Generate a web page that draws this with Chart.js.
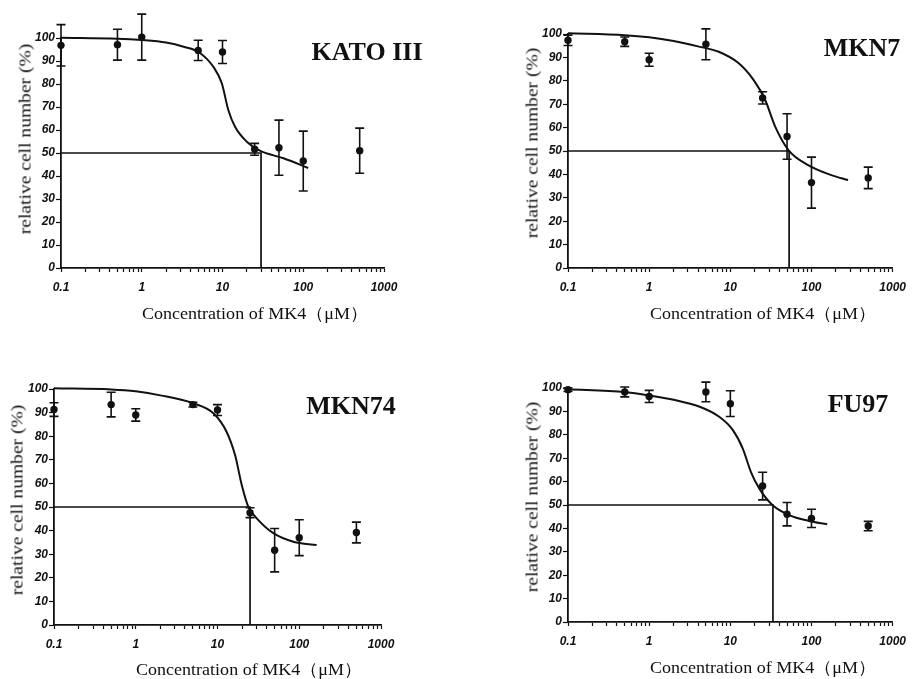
<!DOCTYPE html>
<html><head><meta charset="utf-8">
<script src="https://cdn.jsdelivr.net/npm/chart.js@4.4.1/dist/chart.umd.min.js"></script>
<style>
html,body{margin:0;padding:0;background:#fff}
body{width:914px;height:679px;position:relative;overflow:hidden}
canvas{position:absolute}
.lbl{position:absolute;font-family:"Liberation Serif","Times New Roman",serif;color:#111;white-space:nowrap;line-height:1}
.name{font-weight:bold;font-size:26px;transform:translate(-50%,-50%)}
.xt{font-size:17px;transform:translate(-50%,-50%) scaleX(1.06)}
.yt{font-size:17px;transform:translate(-50%,-50%) rotate(-90deg) scaleX(1.15)}
</style>
</head><body>
<script>
// ---------- data ----------
const xMajorTicks = [0.1, 1, 10, 100, 1000];
const xTickLabels = ['0.1', '1', '10', '100', '1000'];
const yTickLabels = ['0','10','20','30','40','50','60','70','80','90','100'];
const xTitle = 'Concentration of MK4（μM）';
const yTitle = 'relative cell number (%)';

// KATO III
const katoConc = [0.1, 0.5, 1, 5, 10, 25, 50, 100, 500];
const katoMean = [96.8, 97.1, 100.4, 94.6, 93.9, 51.6, 52.3, 46.5, 51.0];
const katoSD   = [9.0, 6.7, 10.0, 4.4, 5.0, 2.6, 12.0, 13.0, 9.8];
const katoFitConc = [0.1, 0.5, 1, 2, 3.3, 5.2, 7.7, 9.8, 11.8, 14.3, 20, 29, 57, 115];
const katoFitVal  = [100.1, 99.7, 99.1, 98.0, 96.2, 93.6, 87.5, 80.3, 68.7, 61.4, 54.9, 51.0, 47.7, 43.5];
const katoIC50 = 30;

// MKN7
const mkn7Conc = [0.1, 0.5, 1, 5, 25, 50, 100, 500];
const mkn7Mean = [97.3, 96.7, 89.0, 95.6, 72.7, 56.2, 36.5, 38.5];
const mkn7SD   = [2.2, 2.0, 2.8, 6.6, 2.6, 9.7, 10.9, 4.6];
const mkn7FitConc = [0.1, 0.5, 1, 2, 4.1, 7.2, 12.7, 19.4, 26.9, 35.7, 52, 91, 176, 282];
const mkn7FitVal  = [100.3, 99.5, 98.6, 97.0, 94.6, 92.4, 87.5, 80.3, 71.8, 60.4, 50.4, 44.0, 39.7, 37.6];
const mkn7IC50 = 53;

// MKN74
const mkn74Conc = [0.1, 0.5, 1, 5, 10, 25, 50, 100, 500];
const mkn74Mean = [91.3, 93.4, 89.0, 93.4, 91.1, 47.6, 31.7, 37.0, 39.2];
const mkn74SD   = [2.9, 5.2, 2.6, 1.0, 2.3, 2.1, 9.2, 7.6, 4.4];
const mkn74FitConc = [0.1, 0.5, 1, 2, 5.1, 8.9, 12.9, 16.4, 19.8, 23.8, 30.2, 48.2, 84.6, 163];
const mkn74FitVal  = [100.3, 99.8, 99.0, 97.3, 93.9, 89.7, 81.9, 72.0, 59.3, 50.1, 45.2, 38.9, 35.3, 33.9];
const mkn74IC50 = 25;

// FU97
const fu97Conc = [0.1, 0.5, 1, 5, 10, 25, 50, 100, 500];
const fu97Mean = [99.3, 98.3, 96.4, 98.3, 93.3, 58.1, 46.1, 44.3, 41.0];
const fu97SD   = [0.8, 2.1, 2.6, 4.2, 5.5, 5.9, 5.0, 3.9, 2.0];
const fu97FitConc = [0.1, 0.5, 1, 2, 4.2, 7.3, 10.7, 14.2, 17.9, 22.7, 33, 53, 93, 156];
const fu97FitVal  = [99.5, 98.3, 96.8, 95.0, 92.0, 87.7, 82.1, 74.2, 64.2, 57.1, 50.0, 45.7, 43.2, 41.8];
const fu97IC50 = 33.5;

// ---------- layout (positions only) ----------
const panels = [
  {name:'KATO III', conc:katoConc, mean:katoMean, sd:katoSD, fx:katoFitConc, fy:katoFitVal, ic:katoIC50,
   cv:[0,0,457,335], area:[61,384,38,268], nameC:[367,52], xtC:[255,313], ytC:[25,139]},
  {name:'MKN7', conc:mkn7Conc, mean:mkn7Mean, sd:mkn7SD, fx:mkn7FitConc, fy:mkn7FitVal, ic:mkn7IC50,
   cv:[457,0,457,335], area:[568,895,34,268], nameC:[862,48], xtC:[763,313], ytC:[532,143]},
  {name:'MKN74', conc:mkn74Conc, mean:mkn74Mean, sd:mkn74SD, fx:mkn74FitConc, fy:mkn74FitVal, ic:mkn74IC50,
   cv:[0,340,457,339], area:[54,381,389,625], nameC:[351,406], xtC:[249,669], ytC:[17,500]},
  {name:'FU97', conc:fu97Conc, mean:fu97Mean, sd:fu97SD, fx:fu97FitConc, fy:fu97FitVal, ic:fu97IC50,
   cv:[457,340,457,339], area:[568,894,388,622], nameC:[858,404], xtC:[763,667], ytC:[532,497]}
];

const INK = '#111';

const errorBars = {
  id: 'errorBars',
  afterDatasetsDraw(chart) {
    const ds = chart.data.datasets.find(d => d.errors);
    if (!ds) return;
    const xs = chart.scales.x, ys = chart.scales.y, ctx = chart.ctx;
    ctx.save();
    ctx.strokeStyle = INK; ctx.lineWidth = 1.6;
    ds.data.forEach((p, i) => {
      const e = ds.errors[i];
      const px = xs.getPixelForValue(p.x);
      const t = ys.getPixelForValue(p.y + e);
      const b = ys.getPixelForValue(p.y - e);
      ctx.beginPath();
      ctx.moveTo(px, t); ctx.lineTo(px, b);
      ctx.moveTo(px - 4.5, t); ctx.lineTo(px + 4.5, t);
      ctx.moveTo(px - 4.5, b); ctx.lineTo(px + 4.5, b);
      ctx.stroke();
    });
    ctx.restore();
  }
};

function xTicksAll() {
  const out = [];
  xMajorTicks.forEach((m, i) => {
    out.push(m);
    if (i < xMajorTicks.length - 1) for (let k = 2; k <= 9; k++) out.push(+(m * k).toPrecision(6));
  });
  return out;
}

const tickFont = {family: '"Liberation Sans", Arial, sans-serif', size: 12, style: 'italic', weight: 'bold'};

function addLabel(cls, text, c) {
  const d = document.createElement('div');
  d.className = 'lbl ' + cls;
  d.textContent = text;
  d.style.left = c[0] + 'px';
  d.style.top = c[1] + 'px';
  document.body.appendChild(d);
}

panels.forEach(p => {
  const [cx, cy, w, h] = p.cv;
  const [aL, aR, aT, aB] = p.area;
  const cnv = document.createElement('canvas');
  cnv.width = w; cnv.height = h;
  cnv.style.left = cx + 'px'; cnv.style.top = cy + 'px';
  cnv.style.width = w + 'px'; cnv.style.height = h + 'px';
  document.body.appendChild(cnv);

  new Chart(cnv, {
    type: 'scatter',
    data: {
      datasets: [
        { // IC50 guide lines
          type: 'line',
          data: [{x: xMajorTicks[0], y: 50}, {x: p.ic, y: 50}, {x: p.ic, y: 0}],
          borderColor: INK, borderWidth: 1.7, pointRadius: 0, tension: 0, fill: false, clip: false
        },
        { // fitted curve
          type: 'line',
          data: p.fx.map((x, i) => ({x, y: p.fy[i]})),
          borderColor: INK, borderWidth: 2, pointRadius: 0,
          cubicInterpolationMode: 'monotone', fill: false, clip: false
        },
        { // measured means
          data: p.conc.map((x, i) => ({x, y: p.mean[i]})),
          errors: p.sd,
          showLine: false, pointRadius: 3.7, pointBackgroundColor: INK, pointBorderWidth: 0,
          borderColor: INK, clip: false
        }
      ]
    },
    options: {
      responsive: false, animation: false, devicePixelRatio: 1,
      layout: {padding: {left: 0, top: aT - cy, right: cx + w - aR, bottom: 0}},
      plugins: {legend: {display: false}, tooltip: {enabled: false}},
      events: [],
      scales: {
        x: {
          type: 'logarithmic', min: xMajorTicks[0], max: xMajorTicks[xMajorTicks.length - 1],
          afterFit: s => { s.height = cy + h - aB; },
          afterBuildTicks: s => { s.ticks = xTicksAll().map(v => ({value: v})); },
          border: {display: true, color: INK, width: 1.8},
          grid: {display: true, drawOnChartArea: false, drawTicks: true, tickLength: 4, tickColor: INK, tickWidth: 1.2},
          ticks: {
            autoSkip: false, maxRotation: 0, minRotation: 0, padding: 8, color: INK, font: tickFont,
            callback: v => {
              const i = xMajorTicks.findIndex(m => Math.abs(m - v) / m < 1e-6);
              return i >= 0 ? xTickLabels[i] : '';
            }
          }
        },
        y: {
          type: 'linear', min: 0, max: 100,
          afterFit: s => { s.width = aL - cx; },
          afterBuildTicks: s => { s.ticks = yTickLabels.map(v => ({value: +v})); },
          border: {display: true, color: INK, width: 1.8},
          grid: {display: true, drawOnChartArea: false, drawTicks: true, tickLength: 5, tickColor: INK, tickWidth: 1.2},
          ticks: {
            padding: 1, color: INK, font: tickFont,
            callback: (v, i) => yTickLabels[i]
          }
        }
      }
    },
    plugins: [errorBars]
  });

  addLabel('name', p.name, p.nameC);
  addLabel('xt', xTitle, p.xtC);
  addLabel('yt', yTitle, p.ytC);
});
</script>
</body></html>
